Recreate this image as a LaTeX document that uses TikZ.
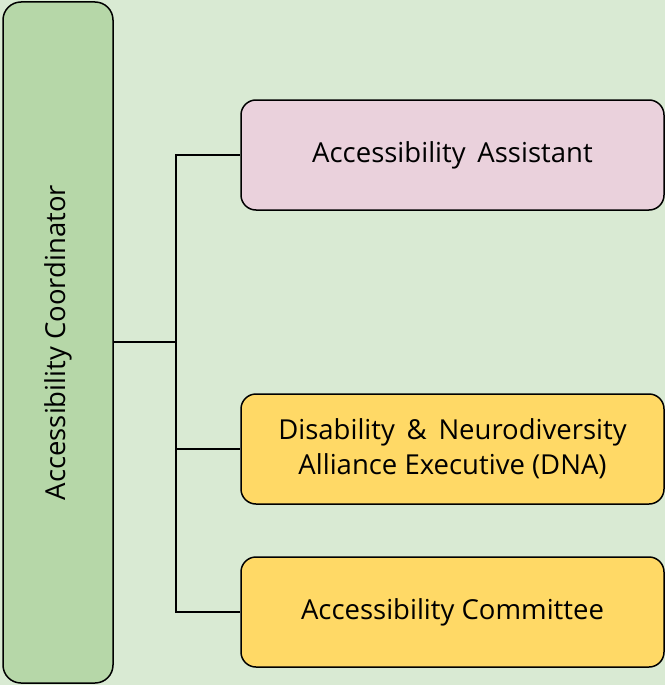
\documentclass[tikz,border=0pt]{standalone}
\usepackage{fontspec}
\setmainfont{Open Sans}
\begin{document}
\begin{tikzpicture}[x=1pt,y=-1pt,
  box/.style={draw=black, line width=1.5pt, rounded corners=15pt, align=center, font=\fontsize{27.5}{35}\selectfont, inner sep=0pt},
  link/.style={draw=black, line width=1.5pt}]
\fill[fill={rgb,255:red,217;green,234;blue,211}] (0,0) rectangle (665,685);
\useasboundingbox (0,0) rectangle (665,685);
\node[box, rounded corners=18pt, fill={rgb,255:red,182;green,215;blue,168}, minimum width=110pt, minimum height=681pt] (coord) at (58,342.5) {};
\node[rotate=90, font=\fontsize{27.5}{35}\selectfont] (coordtext) at (coord.center) {Accessibility Coordinator};
\node[box, fill={rgb,255:red,234;green,209;blue,220}, minimum width=423pt, minimum height=110pt] (asst) at (452.5,155) {Accessibility\, Assistant};
\node[box, fill={rgb,255:red,255;green,217;blue,102}, minimum width=423pt, minimum height=110pt] (dna) at (452.5,449) {Disability \,\&\, Neurodiversity\\Alliance Executive (DNA)};
\node[box, fill={rgb,255:red,255;green,217;blue,102}, minimum width=423pt, minimum height=110pt] (comm) at (452.5,612) {Accessibility Committee};
\coordinate (j) at (176,342);
\draw[link] (coord.east |- j) -- (j);
\draw[link] (j) |- (asst.west);
\draw[link] (j) |- (dna.west);
\draw[link] (j) |- (comm.west);
\end{tikzpicture}
\end{document}
